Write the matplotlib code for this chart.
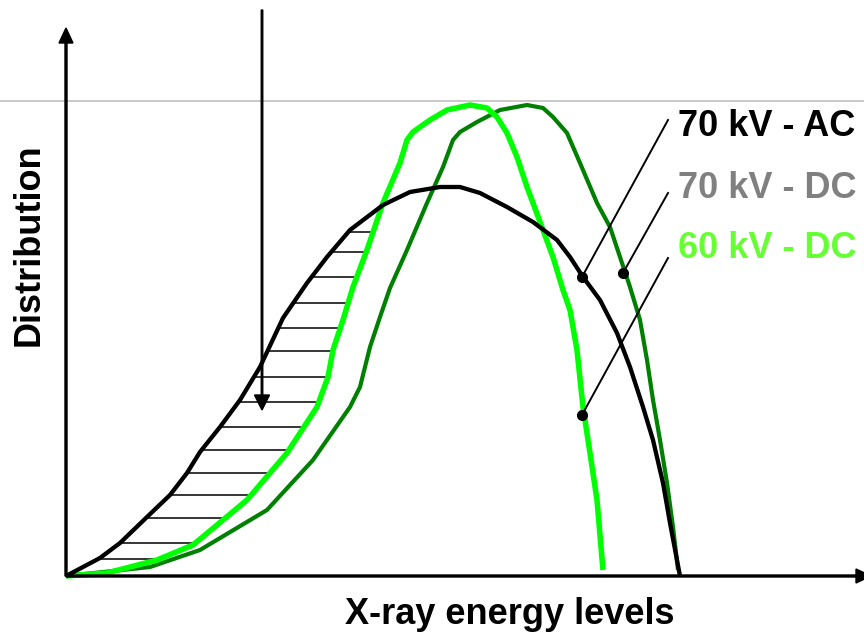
import numpy as np
import matplotlib
matplotlib.use('Agg')
import matplotlib.pyplot as plt

plt.rcParams['font.family'] = ['Liberation Sans', 'DejaVu Sans']

# diagram units: 1 unit = 1 pixel, origin at the axes corner
ac70_x = [0, 34, 54, 81, 104, 121, 134, 154, 174, 194, 217, 241, 261, 284, 317, 344,
          374, 394, 414, 441, 467, 491, 504, 517, 534, 551, 564, 577, 587, 597, 604, 614]
ac70_y = [0, 18, 33, 59, 81, 103, 124, 149, 176, 209, 258, 293, 319, 346, 371, 384,
          389, 389, 383, 369, 354, 336, 319, 299, 276, 243, 209, 169, 136, 93, 53, 0]

dc60_x = [0, 41, 91, 127, 181, 221, 251, 262, 267, 277, 287, 301, 317, 334, 341, 347,
          364, 381, 404, 421, 431, 441, 451, 461, 467, 477, 487, 497, 504, 511, 517,
          524, 531, 537]
dc60_y = [0, 3, 16, 31, 76, 123, 169, 199, 226, 256, 289, 326, 373, 413, 436, 444,
          456, 466, 471, 468, 459, 443, 419, 389, 373, 346, 319, 286, 266, 226, 169,
          123, 76, 6]

dc70_x = [0, 84, 134, 201, 247, 284, 294, 304, 314, 324, 341, 361, 377, 387, 394, 411,
          434, 461, 477, 487, 501, 514, 531, 544, 554, 564, 574, 581, 587, 594, 601,
          607, 612]
dc70_y = [0, 9, 26, 66, 116, 169, 189, 229, 259, 288, 326, 373, 409, 436, 444, 454,
          466, 471, 468, 459, 443, 413, 373, 349, 319, 289, 256, 216, 176, 136, 93,
          49, 6]

hatch_levels = [344, 324, 299, 273, 248, 225, 199, 174, 149, 126, 103, 81, 58, 33, 17]

labels = ['70 kV - AC', '70 kV - DC', '60 kV - DC']
label_colors = ['#000000', '#808080', '#66ff33']
label_y = [449, 388, 328]
leader_start = [(602, 456), (602, 383), (602, 318)]
leader_dot = [(516, 299), (557, 303), (516, 161)]

fig = plt.figure(figsize=(8.64, 6.34), dpi=100)
ax = fig.add_axes([0, 0, 1, 1])
ax.set_xlim(-66, 798)
ax.set_ylim(-58, 576)
ax.axis('off')

# thin grey guide line at the peak height
ax.axhline(475, color='#c0c0c0', lw=1.2, zorder=1)

# hatching between AC and 60 kV DC on the rising side
i_ac = int(np.argmax(ac70_y))
i_60 = int(np.argmax(dc60_y))
for lv in hatch_levels:
    x0 = np.interp(lv, ac70_y[:i_ac + 1], ac70_x[:i_ac + 1])
    x1 = np.interp(lv, dc60_y[:i_60 + 1], dc60_x[:i_60 + 1])
    ax.plot([x0, x1], [lv, lv], color='black', lw=1.1, zorder=2)

ax.plot(dc70_x, dc70_y, color='#008000', lw=3.0, zorder=3,
        solid_joinstyle='round', solid_capstyle='butt')
ax.plot(dc60_x, dc60_y, color='#00ff00', lw=4.0, zorder=4,
        solid_joinstyle='round', solid_capstyle='butt')
ax.plot(ac70_x, ac70_y, color='black', lw=3.1, zorder=5,
        solid_joinstyle='round', solid_capstyle='butt')

# axes arrows
ax.arrow(0, 0, 0, 548, width=2, head_width=14, head_length=15,
         length_includes_head=True, fc='black', ec='black', zorder=6)
ax.arrow(0, 0, 805, 0, width=2, head_width=14, head_length=15,
         length_includes_head=True, fc='black', ec='black', zorder=6)

# pointer arrow into the hatched area
ax.arrow(196, 566, 0, -400, width=1.5, head_width=15, head_length=15,
         length_includes_head=True, fc='black', ec='black', zorder=6)

# labels with leader lines
for txt, col, ty, (sx, sy), (dx, dy) in zip(labels, label_colors, label_y,
                                            leader_start, leader_dot):
    ax.plot([sx, dx], [sy, dy], color='black', lw=1.4, zorder=7)
    ax.plot(dx, dy, 'o', color='black', ms=7, zorder=8)
    ax.text(612, ty, txt, color=col, fontsize=26, fontweight='bold',
            ha='left', va='center')

ax.text(-37, 331, 'Distribution', rotation=90, fontsize=26, fontweight='bold',
        ha='center', va='center')
ax.text(444, -38, 'X-ray energy levels', fontsize=26, fontweight='bold',
        ha='center', va='center')

fig.savefig('out.png', dpi=100)
